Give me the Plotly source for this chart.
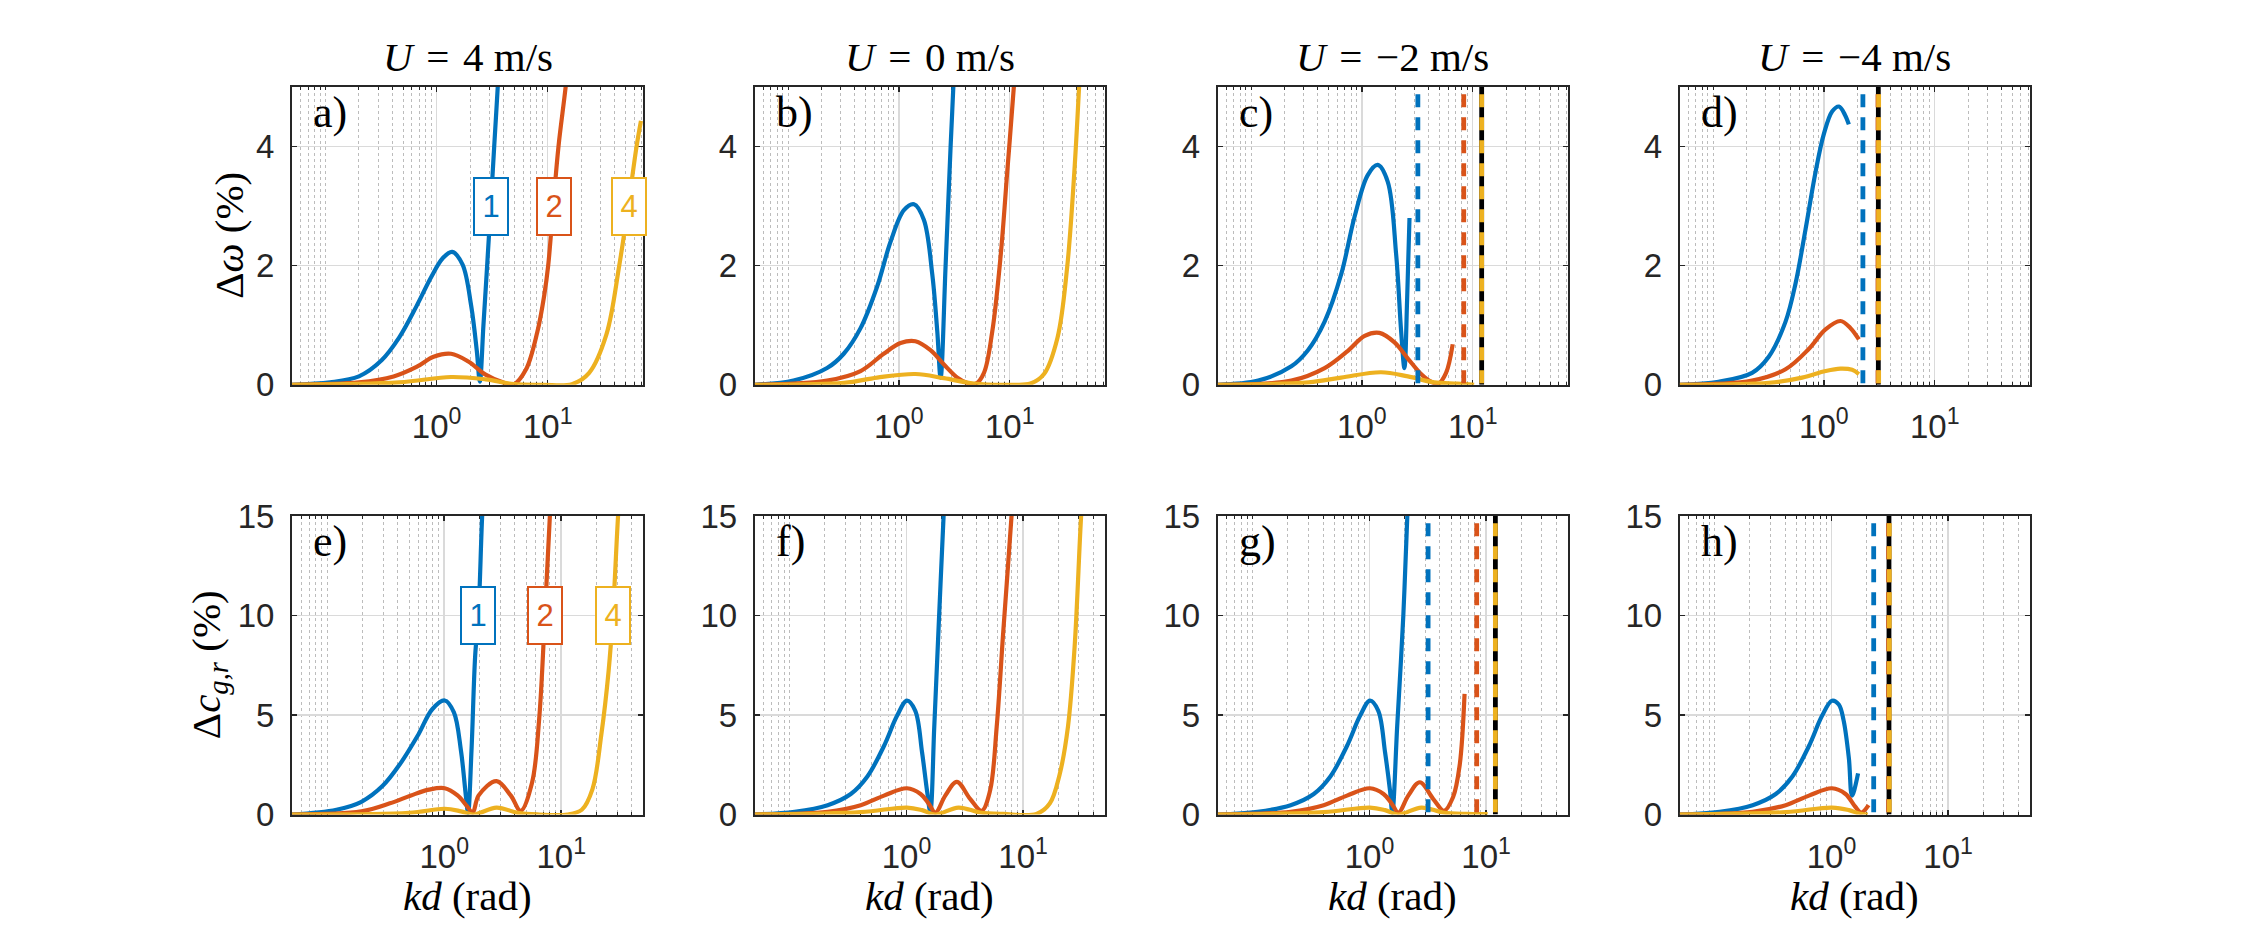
import math
import plotly.graph_objects as go

# ------------------------------------------------------------------
# Data
# ------------------------------------------------------------------
U_VALUES = [4, 0, -2, -4]
ORDERS = ["1", "2", "4"]
TOP_LETTERS = ["a)", "b)", "c)", "d)"]
BOT_LETTERS = ["e)", "f)", "g)", "h)"]

TOP_YTICKS = [0, 2, 4]
BOT_YTICKS = [0, 5, 10, 15]
TOP_YMAX = 5
BOT_YMAX = 15
XTICKS = [1, 10]
XTICK_TEXT = ["10<sup>0</sup>", "10<sup>1</sup>"]
XMIN = 0.05
TOP_XMAX = 72
BOT_XMAX = 50
MINOR_X = [0.06, 0.07, 0.08, 0.09, 0.1, 0.2, 0.3, 0.4, 0.5, 0.6, 0.7, 0.8, 0.9,
           2, 3, 4, 5, 6, 7, 8, 9, 20, 30, 40, 50, 60, 70]

# ---- panel a : U = 4 m/s, delta omega (%) ----
A_KD_1 = [0.05, 0.11, 0.2, 0.32, 0.46, 0.66, 0.89, 1.13, 1.38, 1.71, 2.05, 2.3, 2.45, 2.64, 2.85, 3.07, 3.3, 3.55, 3.8]
A_DW_1 = [0.0, 0.04, 0.14, 0.41, 0.79, 1.32, 1.80, 2.12, 2.23, 2.02, 1.32, 0.57, 0.05, 1.0, 2.0, 3.0, 4.0, 5.0, 6.0]
A_KD_2 = [0.05, 0.2, 0.41, 0.66, 0.94, 1.35, 1.93, 2.76, 3.94, 4.89, 6.35, 8.07, 9.3, 10.1, 11.2, 12.5, 14.5, 16.5]
A_DW_2 = [0.0, 0.04, 0.14, 0.30, 0.47, 0.52, 0.39, 0.17, 0.04, 0.0, 0.25, 0.89, 1.5, 2.0, 3.0, 4.0, 5.0, 6.0]
A_KD_4 = [0.05, 0.46, 1.35, 2.76, 5.0, 9.1, 16.5, 23.6, 33.7, 44.0, 53.0, 63.0, 69.0]
A_DW_4 = [0.0, 0.04, 0.13, 0.09, 0.01, 0.0, 0.01, 0.2, 0.84, 2.0, 3.0, 4.0, 4.43]

# ---- panel b : U = 0 m/s ----
B_KD_1 = [0.05, 0.112, 0.225, 0.318, 0.451, 0.637, 0.841, 1.11, 1.37, 1.68, 2.0, 2.22, 2.38, 2.64, 2.93, 3.1, 3.3]
B_DW_1 = [0.0, 0.07, 0.28, 0.52, 0.95, 1.65, 2.40, 2.93, 3.03, 2.77, 1.86, 0.9, 0.12, 2.0, 4.0, 5.0, 6.3]
B_KD_2 = [0.05, 0.225, 0.451, 0.73, 1.035, 1.41, 1.93, 2.55, 3.37, 4.15, 4.93, 5.86, 6.97, 8.3, 9.5, 10.9, 12.0]
B_DW_2 = [0.0, 0.07, 0.23, 0.52, 0.70, 0.73, 0.58, 0.34, 0.12, 0.03, 0.016, 0.2, 0.9, 2.18, 3.57, 5.0, 6.2]
B_KD_4 = [0.05, 0.318, 0.637, 1.41, 2.55, 4.76, 10.2, 15.4, 20.4, 27.0, 33.0, 38.3, 42.3, 46.0]
B_DW_4 = [0.0, 0.03, 0.12, 0.18, 0.11, 0.02, 0.0, 0.02, 0.18, 0.79, 1.97, 3.57, 5.0, 6.3]

# ---- panel c : U = -2 m/s ----
C_KD_1 = [0.05, 0.116, 0.231, 0.326, 0.461, 0.652, 0.859, 1.13, 1.39, 1.71, 2.04, 2.26, 2.42, 2.56, 2.69]
C_DW_1 = [0.0, 0.07, 0.31, 0.58, 1.06, 1.86, 2.82, 3.52, 3.69, 3.41, 2.18, 0.9, 0.28, 1.43, 2.80]
C_KD_2 = [0.05, 0.231, 0.461, 0.748, 1.06, 1.44, 1.97, 2.6, 3.42, 4.21, 4.9, 5.75, 6.6]
C_DW_2 = [0.0, 0.07, 0.28, 0.57, 0.82, 0.87, 0.71, 0.44, 0.18, 0.05, 0.02, 0.2, 0.68]
C_KD_4 = [0.05, 0.33, 0.65, 1.49, 2.6, 4.5, 7.3, 10.3]
C_DW_4 = [0.0, 0.04, 0.12, 0.21, 0.14, 0.04, 0.02, 0.0]
C_LIMIT_KD = [3.2, 8.3, 12.05]
C_BLACK_KD = 12.05

# ---- panel d : U = -4 m/s ----
D_KD_1 = [0.05, 0.112, 0.225, 0.318, 0.451, 0.555, 0.683, 0.841, 1.0, 1.19, 1.37, 1.55, 1.68]
D_DW_1 = [0.0, 0.05, 0.2, 0.47, 1.06, 1.70, 2.61, 3.57, 4.21, 4.59, 4.67, 4.53, 4.37]
D_KD_2 = [0.05, 0.225, 0.451, 0.73, 1.035, 1.41, 1.74, 2.07]
D_DW_2 = [0.0, 0.07, 0.26, 0.60, 0.93, 1.07, 0.95, 0.76]
D_KD_4 = [0.05, 0.318, 0.637, 1.035, 1.41, 1.8, 2.07]
D_DW_4 = [0.0, 0.03, 0.12, 0.23, 0.27, 0.25, 0.18]
D_LIMIT_KD = [2.25, 3.08, 3.12]
D_BLACK_KD = 3.1

# ---- panel e : U = 4 m/s, delta c_g,r (%) ----
E_KD_1 = [0.05, 0.12, 0.196, 0.298, 0.423, 0.6, 0.79, 1.01, 1.21, 1.39, 1.54, 1.6, 1.71, 1.84, 1.96, 2.11, 2.25]
E_DC_1 = [0.0, 0.24, 0.64, 1.44, 2.57, 4.01, 5.29, 5.73, 5.13, 3.21, 0.8, 0.08, 3.2, 8.0, 10.0, 15.0, 18.0]
E_KD_2 = [0.05, 0.196, 0.343, 0.52, 0.74, 1.01, 1.3, 1.55, 1.75, 1.97, 2.8, 3.7, 4.5, 5.63, 6.48, 7.25, 8.0, 8.6]
E_DC_2 = [0.0, 0.16, 0.56, 0.96, 1.25, 1.32, 0.96, 0.45, 0.1, 0.96, 1.68, 0.96, 0.19, 1.6, 4.8, 10.0, 15.0, 18.0]
E_KD_4 = [0.05, 0.5, 1.01, 1.39, 1.78, 2.8, 4.26, 6.48, 11.3, 15.0, 18.5, 22.0, 25.4, 27.6, 30.6, 33.0]
E_DC_4 = [0.0, 0.08, 0.29, 0.16, 0.0, 0.35, 0.08, 0.0, 0.0, 0.24, 1.28, 4.0, 7.2, 10.0, 15.0, 18.0]

# ---- panel f : U = 0 m/s ----
F_KD_1 = [0.05, 0.11, 0.211, 0.333, 0.462, 0.641, 0.832, 1.01, 1.19, 1.36, 1.5, 1.6, 1.73, 1.89, 2.08, 2.2]
F_DC_1 = [0.0, 0.14, 0.47, 1.03, 1.91, 3.44, 4.97, 5.72, 5.21, 3.12, 1.19, 0.14, 4.4, 9.55, 15.0, 18.0]
F_KD_2 = [0.05, 0.211, 0.405, 0.641, 1.01, 1.32, 1.55, 1.77, 2.15, 2.7, 3.51, 4.41, 5.2, 5.93, 6.76, 7.95, 8.5]
F_DC_2 = [0.0, 0.14, 0.47, 0.95, 1.32, 1.03, 0.55, 0.1, 0.95, 1.64, 0.79, 0.19, 1.19, 4.4, 9.23, 15.0, 18.0]
F_KD_4 = [0.05, 0.405, 1.01, 1.36, 1.77, 2.79, 4.27, 6.76, 13.0, 16.9, 20.5, 24.2, 27.6, 31.4, 34.0]
F_DC_4 = [0.0, 0.12, 0.35, 0.22, 0.0, 0.35, 0.1, 0.03, 0.03, 0.55, 1.99, 4.4, 8.4, 15.0, 18.0]

# ---- panel g : U = -2 m/s ----
G_KD_1 = [0.05, 0.11, 0.211, 0.333, 0.462, 0.641, 0.832, 1.01, 1.19, 1.36, 1.5, 1.57, 1.73, 1.95, 2.11, 2.25]
G_DC_1 = [0.0, 0.14, 0.47, 1.03, 1.91, 3.44, 4.97, 5.72, 5.21, 3.12, 1.19, 0.1, 4.5, 10.0, 15.0, 18.0]
G_KD_2 = [0.05, 0.211, 0.405, 0.641, 1.01, 1.32, 1.55, 1.77, 2.15, 2.7, 3.51, 4.35, 5.2, 5.93, 6.53]
G_DC_2 = [0.0, 0.14, 0.47, 0.95, 1.32, 1.03, 0.55, 0.1, 0.95, 1.62, 0.79, 0.19, 0.87, 2.48, 6.06]
G_KD_4 = [0.05, 0.405, 1.01, 1.36, 1.77, 2.79, 4.27, 6.76, 10.3]
G_DC_4 = [0.0, 0.12, 0.35, 0.22, 0.0, 0.35, 0.1, 0.03, 0.02]
G_LIMIT_KD = [3.18, 8.3, 12.0]
G_BLACK_KD = 12.0

# ---- panel h : U = -4 m/s ----
H_KD_1 = [0.05, 0.11, 0.211, 0.333, 0.462, 0.641, 0.832, 1.01, 1.155, 1.27, 1.41, 1.5, 1.69]
H_DC_1 = [0.0, 0.14, 0.47, 1.03, 1.91, 3.44, 4.97, 5.72, 5.53, 4.73, 2.81, 0.95, 2.07]
H_KD_2 = [0.05, 0.211, 0.405, 0.641, 1.01, 1.32, 1.6, 1.8, 2.08]
H_DC_2 = [0.0, 0.14, 0.47, 0.95, 1.32, 1.03, 0.39, 0.1, 0.47]
H_KD_4 = [0.05, 0.405, 1.01, 1.41, 1.77, 2.05]
H_DC_4 = [0.0, 0.12, 0.35, 0.22, 0.03, 0.0]
H_LIMIT_KD = [2.3, 3.09, 3.13]
H_BLACK_KD = 3.11

# inline order labels (panels a and e)
A_LABEL_KD = [3.07, 11.5, 53.5]
A_LABEL_Y = 3.0
E_LABEL_KD = [1.96, 7.25, 27.6]
E_LABEL_Y = 10.0

# ------------------------------------------------------------------
# Styling / layout
# ------------------------------------------------------------------
W, H = 2244, 944
COLORS = ["#0072BD", "#D95319", "#EDB120"]
AXC = "#262626"
SANS = "Liberation Sans, Arial, sans-serif"
SERIF = "Liberation Serif, Times New Roman, serif"

COL_PX = [(292.0, 643.0), (754.7, 1104.7), (1217.7, 1567.7), (1679.7, 2029.7)]
ROW_PX = [(71.7, 381.7), (518.3, 829.0)]

panels = [
    (0, 0, [(A_KD_1, A_DW_1), (A_KD_2, A_DW_2), (A_KD_4, A_DW_4)], None, None),
    (0, 1, [(B_KD_1, B_DW_1), (B_KD_2, B_DW_2), (B_KD_4, B_DW_4)], None, None),
    (0, 2, [(C_KD_1, C_DW_1), (C_KD_2, C_DW_2), (C_KD_4, C_DW_4)], C_LIMIT_KD, C_BLACK_KD),
    (0, 3, [(D_KD_1, D_DW_1), (D_KD_2, D_DW_2), (D_KD_4, D_DW_4)], D_LIMIT_KD, D_BLACK_KD),
    (1, 0, [(E_KD_1, E_DC_1), (E_KD_2, E_DC_2), (E_KD_4, E_DC_4)], None, None),
    (1, 1, [(F_KD_1, F_DC_1), (F_KD_2, F_DC_2), (F_KD_4, F_DC_4)], None, None),
    (1, 2, [(G_KD_1, G_DC_1), (G_KD_2, G_DC_2), (G_KD_4, G_DC_4)], G_LIMIT_KD, G_BLACK_KD),
    (1, 3, [(H_KD_1, H_DC_1), (H_KD_2, H_DC_2), (H_KD_4, H_DC_4)], H_LIMIT_KD, H_BLACK_KD),
]

fig = go.Figure()
layout = dict(
    width=W, height=H,
    margin=dict(l=0, r=0, t=0, b=0),
    paper_bgcolor="white", plot_bgcolor="white",
    showlegend=False,
)
annotations = []

DASH = "13px,10px"
DASH_LEAD = 1.0526  # line starts just above the box so the first dash begins a little below the top

for k, (row, col, curves, limits, black) in enumerate(panels):
    sx = "" if k == 0 else str(k + 1)
    xa, ya = "x" + sx, "y" + sx
    ymax = TOP_YMAX if row == 0 else BOT_YMAX
    yticks = TOP_YTICKS if row == 0 else BOT_YTICKS
    xmax = TOP_XMAX if row == 0 else BOT_XMAX
    x0, x1 = COL_PX[col]
    y0, y1 = ROW_PX[row]

    common = dict(
        showline=True, linecolor=AXC, linewidth=2, mirror="allticks",
        ticks="inside", ticklen=5, tickwidth=1.5, tickcolor=AXC,
        showgrid=True, gridcolor="#dadada", gridwidth=1.5,
        zeroline=False, layer="below traces",
        tickfont=dict(family=SANS, size=33, color=AXC),
        fixedrange=True,
    )
    layout["xaxis" + sx] = dict(
        common,
        domain=[x0 / W, x1 / W], anchor=ya, type="log",
        range=[math.log10(XMIN), math.log10(xmax)],
        tickmode="array", tickvals=XTICKS, ticktext=XTICK_TEXT,
        ticklabelstandoff=12,
        minor=dict(tickmode="array", tickvals=MINOR_X, showgrid=True,
                   gridcolor="#bcbcbc", griddash="dot", gridwidth=1,
                   ticks="inside", ticklen=3, tickcolor=AXC, tickwidth=1),
    )
    layout["yaxis" + sx] = dict(
        common,
        domain=[1 - y1 / H, 1 - y0 / H], anchor=xa,
        range=[0, ymax], tickmode="array", tickvals=yticks,
        ticktext=[str(t) for t in yticks],
        ticklabelstandoff=9,
    )

    for j, (kd, val) in enumerate(curves):
        fig.add_trace(go.Scatter(
            x=kd, y=val, mode="lines", xaxis=xa, yaxis=ya,
            line=dict(color=COLORS[j], width=4.2, shape="spline", smoothing=1.0),
            hoverinfo="skip",
        ))

    if limits is not None:
        fig.add_trace(go.Scatter(
            x=[black, black], y=[ymax, 0], mode="lines", xaxis=xa, yaxis=ya,
            line=dict(color="black", width=4.8), hoverinfo="skip",
        ))
        for j, lk in enumerate(limits):
            fig.add_trace(go.Scatter(
                x=[lk, lk], y=[ymax * DASH_LEAD, 0], mode="lines", xaxis=xa, yaxis=ya,
                line=dict(color=COLORS[j], width=4.8, dash=DASH), hoverinfo="skip",
            ))

    # panel letter
    letter = (TOP_LETTERS if row == 0 else BOT_LETTERS)[col]
    annotations.append(dict(
        text=letter, xref="paper", yref="paper",
        x=(x0 + 19) / W, y=1 - (y0 + 27) / H, xanchor="left", yanchor="middle",
        showarrow=False, font=dict(family=SERIF, size=44, color="black"),
    ))

    if row == 0:
        annotations.append(dict(
            text="<i>U</i>\u2004=\u2004%s m/s" % (str(U_VALUES[col]).replace("-", "\u2212")),
            xref="paper", yref="paper",
            x=(x0 + x1) / 2 / W, y=1 - 41 / H, xanchor="center", yanchor="middle",
            showarrow=False, font=dict(family=SERIF, size=41, color="black"),
        ))
    else:
        annotations.append(dict(
            text="<i>kd</i> (rad)", xref="paper", yref="paper",
            x=(x0 + x1) / 2 / W, y=1 - 914 / H, xanchor="center", yanchor="middle",
            showarrow=False, font=dict(family=SERIF, size=41, color="black"),
        ))

# y labels
annotations.append(dict(
    text="\u0394<i>\u03c9</i> (%)", xref="paper", yref="paper",
    x=229 / W, y=1 - (ROW_PX[0][0] + ROW_PX[0][1]) / 2 / H,
    xanchor="center", yanchor="middle", textangle=-90, showarrow=False,
    font=dict(family=SERIF, size=41, color="black"),
))
annotations.append(dict(
    text="\u0394<i>c</i><sub><i>g,r</i></sub> (%)", xref="paper", yref="paper",
    x=209 / W, y=1 - (ROW_PX[1][0] + ROW_PX[1][1]) / 2 / H,
    xanchor="center", yanchor="middle", textangle=-90, showarrow=False,
    font=dict(family=SERIF, size=41, color="black"),
))

# inline order labels
for j in range(3):
    for axx, axy, lkd, ly in (("x", "y", A_LABEL_KD, A_LABEL_Y), ("x5", "y5", E_LABEL_KD, E_LABEL_Y)):
        annotations.append(dict(
            text=ORDERS[j], xref=axx, yref=axy, x=math.log10(lkd[j]), y=ly,
            showarrow=False, xanchor="center", yanchor="middle",
            font=dict(family=SANS, size=31, color=COLORS[j]),
            bgcolor="white", bordercolor=COLORS[j], borderwidth=2, borderpad=0,
            width=32, height=55,
        ))

layout["annotations"] = annotations
fig.update_layout(**layout)

fig.write_html(
    "out.html",
    config={"displayModeBar": False, "staticPlot": True},
    post_script="document.body.style.margin='0';document.body.style.overflow='hidden';",
)
